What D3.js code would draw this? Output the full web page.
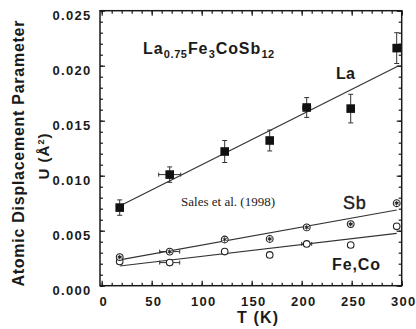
<!DOCTYPE html>
<html>
<head>
<meta charset="utf-8">
<script src="https://cdn.jsdelivr.net/npm/d3@7"></script>
<style>
  body { margin: 0; background: #fff; }
  text { fill: #1a1a1a; }
</style>
</head>
<body>
<div id="chart"></div>
<script>
// dati
const temps = [18, 68, 123, 168, 205, 249, 295];
const laU = [0.0071, 0.0101, 0.0122, 0.0132, 0.0162, 0.0161, 0.0216];
const laErr = [0.0007, 0.0007, 0.001, 0.00095, 0.0009, 0.0013, 0.0014];
const laTErr = [0, 11, 0, 0, 4, 0, 0];
const sbU = [0.0026, 0.0031, 0.0042, 0.00425, 0.0053, 0.0056, 0.0075];
const sbTErr = [0, 10, 0, 0, 0, 0, 0];
const feCoU = [0.0022, 0.0021, 0.0031, 0.0028, 0.0038, 0.0037, 0.0054];
const feCoTErr = [0, 10, 0, 0, 5, 0, 0];

// rette di fit (T, U) agli estremi
const laFit = [[18, 0.00725], [297, 0.0200]];
const sbFit = [[18, 0.00234], [295, 0.00688]];
const feCoFit = [[18, 0.00179], [295, 0.00476]];

const xMajor = [0, 50, 100, 150, 200, 250, 300];
const yMajor = [0, 0.005, 0.01, 0.015, 0.02, 0.025];

const width = 416;
const height = 329;
const ink = "#1a1a1a";

const x = d3.scaleLinear().domain([0, 300]).range([101.7, 401.7]);
const y = d3.scaleLinear().domain([0, 0.025]).range([285.7, 10.7]);

const svg = d3
  .select("#chart")
  .append("svg")
  .attr("width", width)
  .attr("height", height);

// cornice
svg
  .append("rect")
  .attr("x", 100)
  .attr("y", y(0.025))
  .attr("width", x(300) - 100)
  .attr("height", y(0) - y(0.025))
  .attr("fill", "none")
  .attr("stroke", ink)
  .attr("stroke-width", 1.5);

// tacche: minori e maggiori su tutti i lati
function ticks(axis, transform, size, values) {
  const g = svg
    .append("g")
    .attr("transform", transform)
    .call(axis.tickValues(values).tickSize(size).tickSizeOuter(0).tickFormat(""));
  g.select(".domain").remove();
  g.selectAll("line").attr("stroke", ink).attr("stroke-width", 1.2);
  return g;
}
const xMinor = d3.range(0, 301, 10);
const yMinor = d3.range(0, 26).map((d) => d / 1000);
ticks(d3.axisBottom(x), `translate(0,${y(0)})`, -3, xMinor);
ticks(d3.axisBottom(x), `translate(0,${y(0)})`, -5, xMajor);
ticks(d3.axisTop(x), `translate(0,${y(0.025)})`, -3, xMinor);
ticks(d3.axisTop(x), `translate(0,${y(0.025)})`, -5, xMajor);
ticks(d3.axisLeft(y), `translate(100,0)`, -3, yMinor);
ticks(d3.axisLeft(y), `translate(100,0)`, -5, yMajor);
ticks(d3.axisRight(y), `translate(${x(300)},0)`, -3, yMinor);
ticks(d3.axisRight(y), `translate(${x(300)},0)`, -5, yMajor);

// etichette assi
const font = "'Liberation Sans', Arial, Helvetica, sans-serif";
svg
  .append("g")
  .selectAll("text")
  .data(xMajor)
  .join("text")
  .attr("x", (d) => x(d) + 2)
  .attr("y", 306)
  .attr("text-anchor", "middle")
  .style("font", `bold 13px ${font}`)
  .style("letter-spacing", "1.3px")
  .text((d) => d);

svg
  .append("g")
  .selectAll("text")
  .data(yMajor)
  .join("text")
  .attr("x", 91.5)
  .attr("y", (d) => y(d) + 9)
  .attr("text-anchor", "end")
  .style("font", `bold 13px ${font}`)
  .style("letter-spacing", "1.3px")
  .text((d) => d3.format(".3f")(d));

svg
  .append("text")
  .attr("x", 237)
  .attr("y", 323)
  .attr("textLength", 41)
  .attr("lengthAdjust", "spacing")
  .style("font", `bold 16px ${font}`)
  .text("T (K)");

svg
  .append("text")
  .attr("transform", "translate(24,153.5) rotate(-90)")
  .attr("text-anchor", "middle")
  .attr("textLength", 266)
  .attr("lengthAdjust", "spacing")
  .style("font", `bold 16px ${font}`)
  .text("Atomic Displacement Parameter");

const uLabel = svg
  .append("text")
  .attr("transform", "translate(49,156) rotate(-90)")
  .attr("text-anchor", "middle")
  .style("font", `bold 15px ${font}`)
  .style("letter-spacing", "1px");
uLabel.append("tspan").text("U (Å");
uLabel.append("tspan").attr("dy", -5).style("font-size", "9px").text("2");
uLabel.append("tspan").attr("dy", 5).text(")");

// formula con pedici
const formula = [
  ["La", false], ["0.75", true], ["Fe", false], ["3", true], ["CoSb", false], ["12", true]
];
let fx = 143;
formula.forEach(([t, sub]) => {
  const el = svg
    .append("text")
    .attr("x", fx)
    .attr("y", sub ? 58 : 54)
    .style("font", `bold ${sub ? 11 : 16}px ${font}`)
    .style("letter-spacing", sub ? "0.6px" : "0.9px")
    .text(t);
  fx += el.node().getComputedTextLength() + 0.3;
});

// rette di fit
const line = d3
  .line()
  .x((d) => x(d[0]))
  .y((d) => y(d[1]));
[laFit, sbFit, feCoFit].forEach((f) => {
  svg
    .append("path")
    .attr("d", line(f))
    .attr("fill", "none")
    .attr("stroke", "#333")
    .attr("stroke-width", 1.2);
});

// barre d'errore
const laPts = temps.map((t, i) => ({ t, u: laU[i], e: laErr[i], te: laTErr[i] }));
const sbPts = temps.map((t, i) => ({ t, u: sbU[i], te: sbTErr[i] }));
const fePts = temps.map((t, i) => ({ t, u: feCoU[i], te: feCoTErr[i] }));

const err = svg.append("g").attr("stroke", "#333").attr("stroke-width", 1);
laPts.forEach((d) => {
  err.append("line")
    .attr("x1", x(d.t)).attr("x2", x(d.t))
    .attr("y1", y(d.u - d.e)).attr("y2", y(d.u + d.e));
  [d.u - d.e, d.u + d.e].forEach((v) => {
    err.append("line")
      .attr("x1", x(d.t) - 2.5).attr("x2", x(d.t) + 2.5)
      .attr("y1", y(v)).attr("y2", y(v));
  });
});
[laPts, sbPts, fePts].forEach((pts) => {
  pts.filter((d) => d.te > 0).forEach((d) => {
    err.append("line")
      .attr("x1", x(d.t - d.te)).attr("x2", x(d.t + d.te))
      .attr("y1", y(d.u)).attr("y2", y(d.u));
    [d.t - d.te, d.t + d.te].forEach((v) => {
      err.append("line")
        .attr("x1", x(v)).attr("x2", x(v))
        .attr("y1", y(d.u) - 2).attr("y2", y(d.u) + 2);
    });
  });
});

// marcatori
svg
  .append("g")
  .selectAll("rect")
  .data(laPts)
  .join("rect")
  .attr("x", (d) => x(d.t) - 4.3)
  .attr("y", (d) => y(d.u) - 4.3)
  .attr("width", 8.6)
  .attr("height", 8.6)
  .attr("fill", "#111");

svg
  .append("g")
  .selectAll("circle")
  .data(fePts)
  .join("circle")
  .attr("cx", (d) => x(d.t))
  .attr("cy", (d) => y(d.u))
  .attr("r", 3.3)
  .attr("fill", "#fff")
  .attr("stroke", "#222")
  .attr("stroke-width", 1.1);

const sbG = svg
  .append("g")
  .selectAll("g")
  .data(sbPts)
  .join("g")
  .attr("transform", (d) => `translate(${x(d.t)},${y(d.u)})`);
sbG.append("circle")
  .attr("r", 3.4)
  .attr("fill", "#fff")
  .attr("stroke", "#222")
  .attr("stroke-width", 1.1);
[0, 60, 120].forEach((a) => {
  sbG.append("line")
    .attr("x1", 0).attr("y1", -2.3)
    .attr("x2", 0).attr("y2", 2.3)
    .attr("transform", `rotate(${a})`)
    .attr("stroke", "#222")
    .attr("stroke-width", 1);
});

// etichette serie
svg.append("text")
  .attr("x", 336).attr("y", 79)
  .attr("textLength", 19).attr("lengthAdjust", "spacing")
  .style("font", `bold 16px ${font}`)
  .text("La");
svg.append("text")
  .attr("x", 343).attr("y", 209)
  .style("font", `18px ${font}`)
  .style("letter-spacing", "0.8px")
  .style("stroke", "#1a1a1a")
  .style("stroke-width", 0.4)
  .text("Sb");
svg.append("text")
  .attr("x", 332).attr("y", 270)
  .attr("textLength", 48).attr("lengthAdjust", "spacing")
  .style("font", `bold 16px ${font}`)
  .text("Fe,Co");
svg.append("text")
  .attr("x", 181).attr("y", 206)
  .attr("textLength", 94).attr("lengthAdjust", "spacing")
  .style("font", "13px 'Liberation Serif', 'Times New Roman', serif")
  .text("Sales et al. (1998)");
</script>
</body>
</html>
